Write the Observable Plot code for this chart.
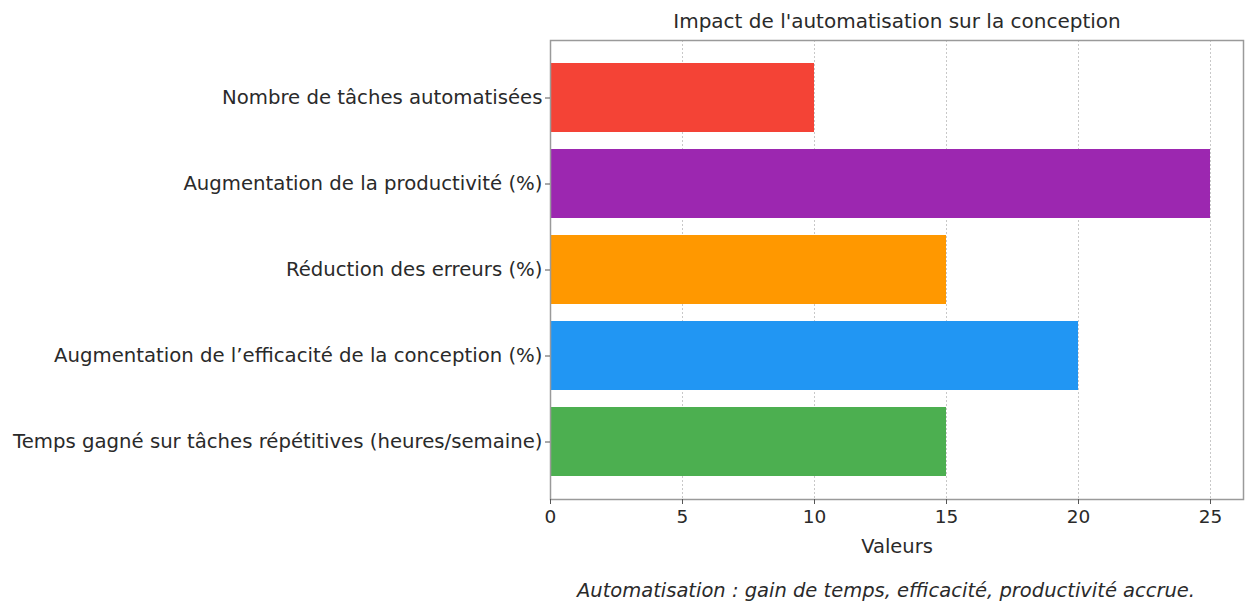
<!DOCTYPE html>
<html>
<head>
<meta charset="utf-8">
<script src="https://cdn.jsdelivr.net/npm/d3@7"></script>
<script src="https://cdn.jsdelivr.net/npm/@observablehq/plot@0.6"></script>
<style>
  html, body { margin: 0; padding: 0; background: #fff; }
  svg { display: block; }
</style>
</head>
<body>
<div id="chart"></div>
<script>
const categories = [
  "Nombre de tâches automatisées",
  "Augmentation de la productivité (%)",
  "Réduction des erreurs (%)",
  "Augmentation de l’efficacité de la conception (%)",
  "Temps gagné sur tâches répétitives (heures/semaine)"
];
const values = [10, 25, 15, 20, 15];
const colors = ["#F44336", "#9C27B0", "#FF9800", "#2196F3", "#4CAF50"];
const xTicks = [0, 5, 10, 15, 20, 25];
const title = "Impact de l'automatisation sur la conception";
const xLabel = "Valeurs";
const caption = "Automatisation : gain de temps, efficacité, productivité accrue.";

const data = categories.map((c, i) => ({category: c, value: values[i]}));
const FONT = "'DejaVu Sans', sans-serif";

const chart = Plot.plot({
  width: 1245,
  height: 601,
  marginLeft: 550,
  marginRight: 2,
  marginTop: 40,
  marginBottom: 102,
  style: {fontFamily: FONT, color: "#2a2a2a", background: "#fff"},
  x: {domain: [0, 26.25]},
  y: {domain: categories, paddingInner: 0.2, paddingOuter: 0.24},
  color: {domain: categories, range: colors},
  marks: [
    Plot.gridX(xTicks.slice(1), {stroke: "#c8c8c8", strokeOpacity: 1, strokeDasharray: "2,2"}),
    Plot.barX(data, {x: "value", y: "category", fill: "category"}),
    Plot.frame({stroke: "#9a9a9a", strokeWidth: 1.5}),
    Plot.axisX({ticks: xTicks, tickSize: 5, tickPadding: 5, fontSize: 18.5, label: null, stroke: "#555"}),
    Plot.axisY({tickSize: 5, tickPadding: 3, fontSize: 19.7, label: null, stroke: "#555"}),
    Plot.text([title], {frameAnchor: "top", dy: -27, fontSize: 20, fill: "#2a2a2a"}),
    Plot.text([xLabel], {frameAnchor: "bottom", dy: 53, fontSize: 19.5, fill: "#2a2a2a"}),
    Plot.text([caption], {frameAnchor: "bottom", dy: 97, dx: -11, fontSize: 19.5, fontStyle: "italic", fill: "#2a2a2a"})
  ]
});
document.getElementById("chart").appendChild(chart);
</script>
</body>
</html>
